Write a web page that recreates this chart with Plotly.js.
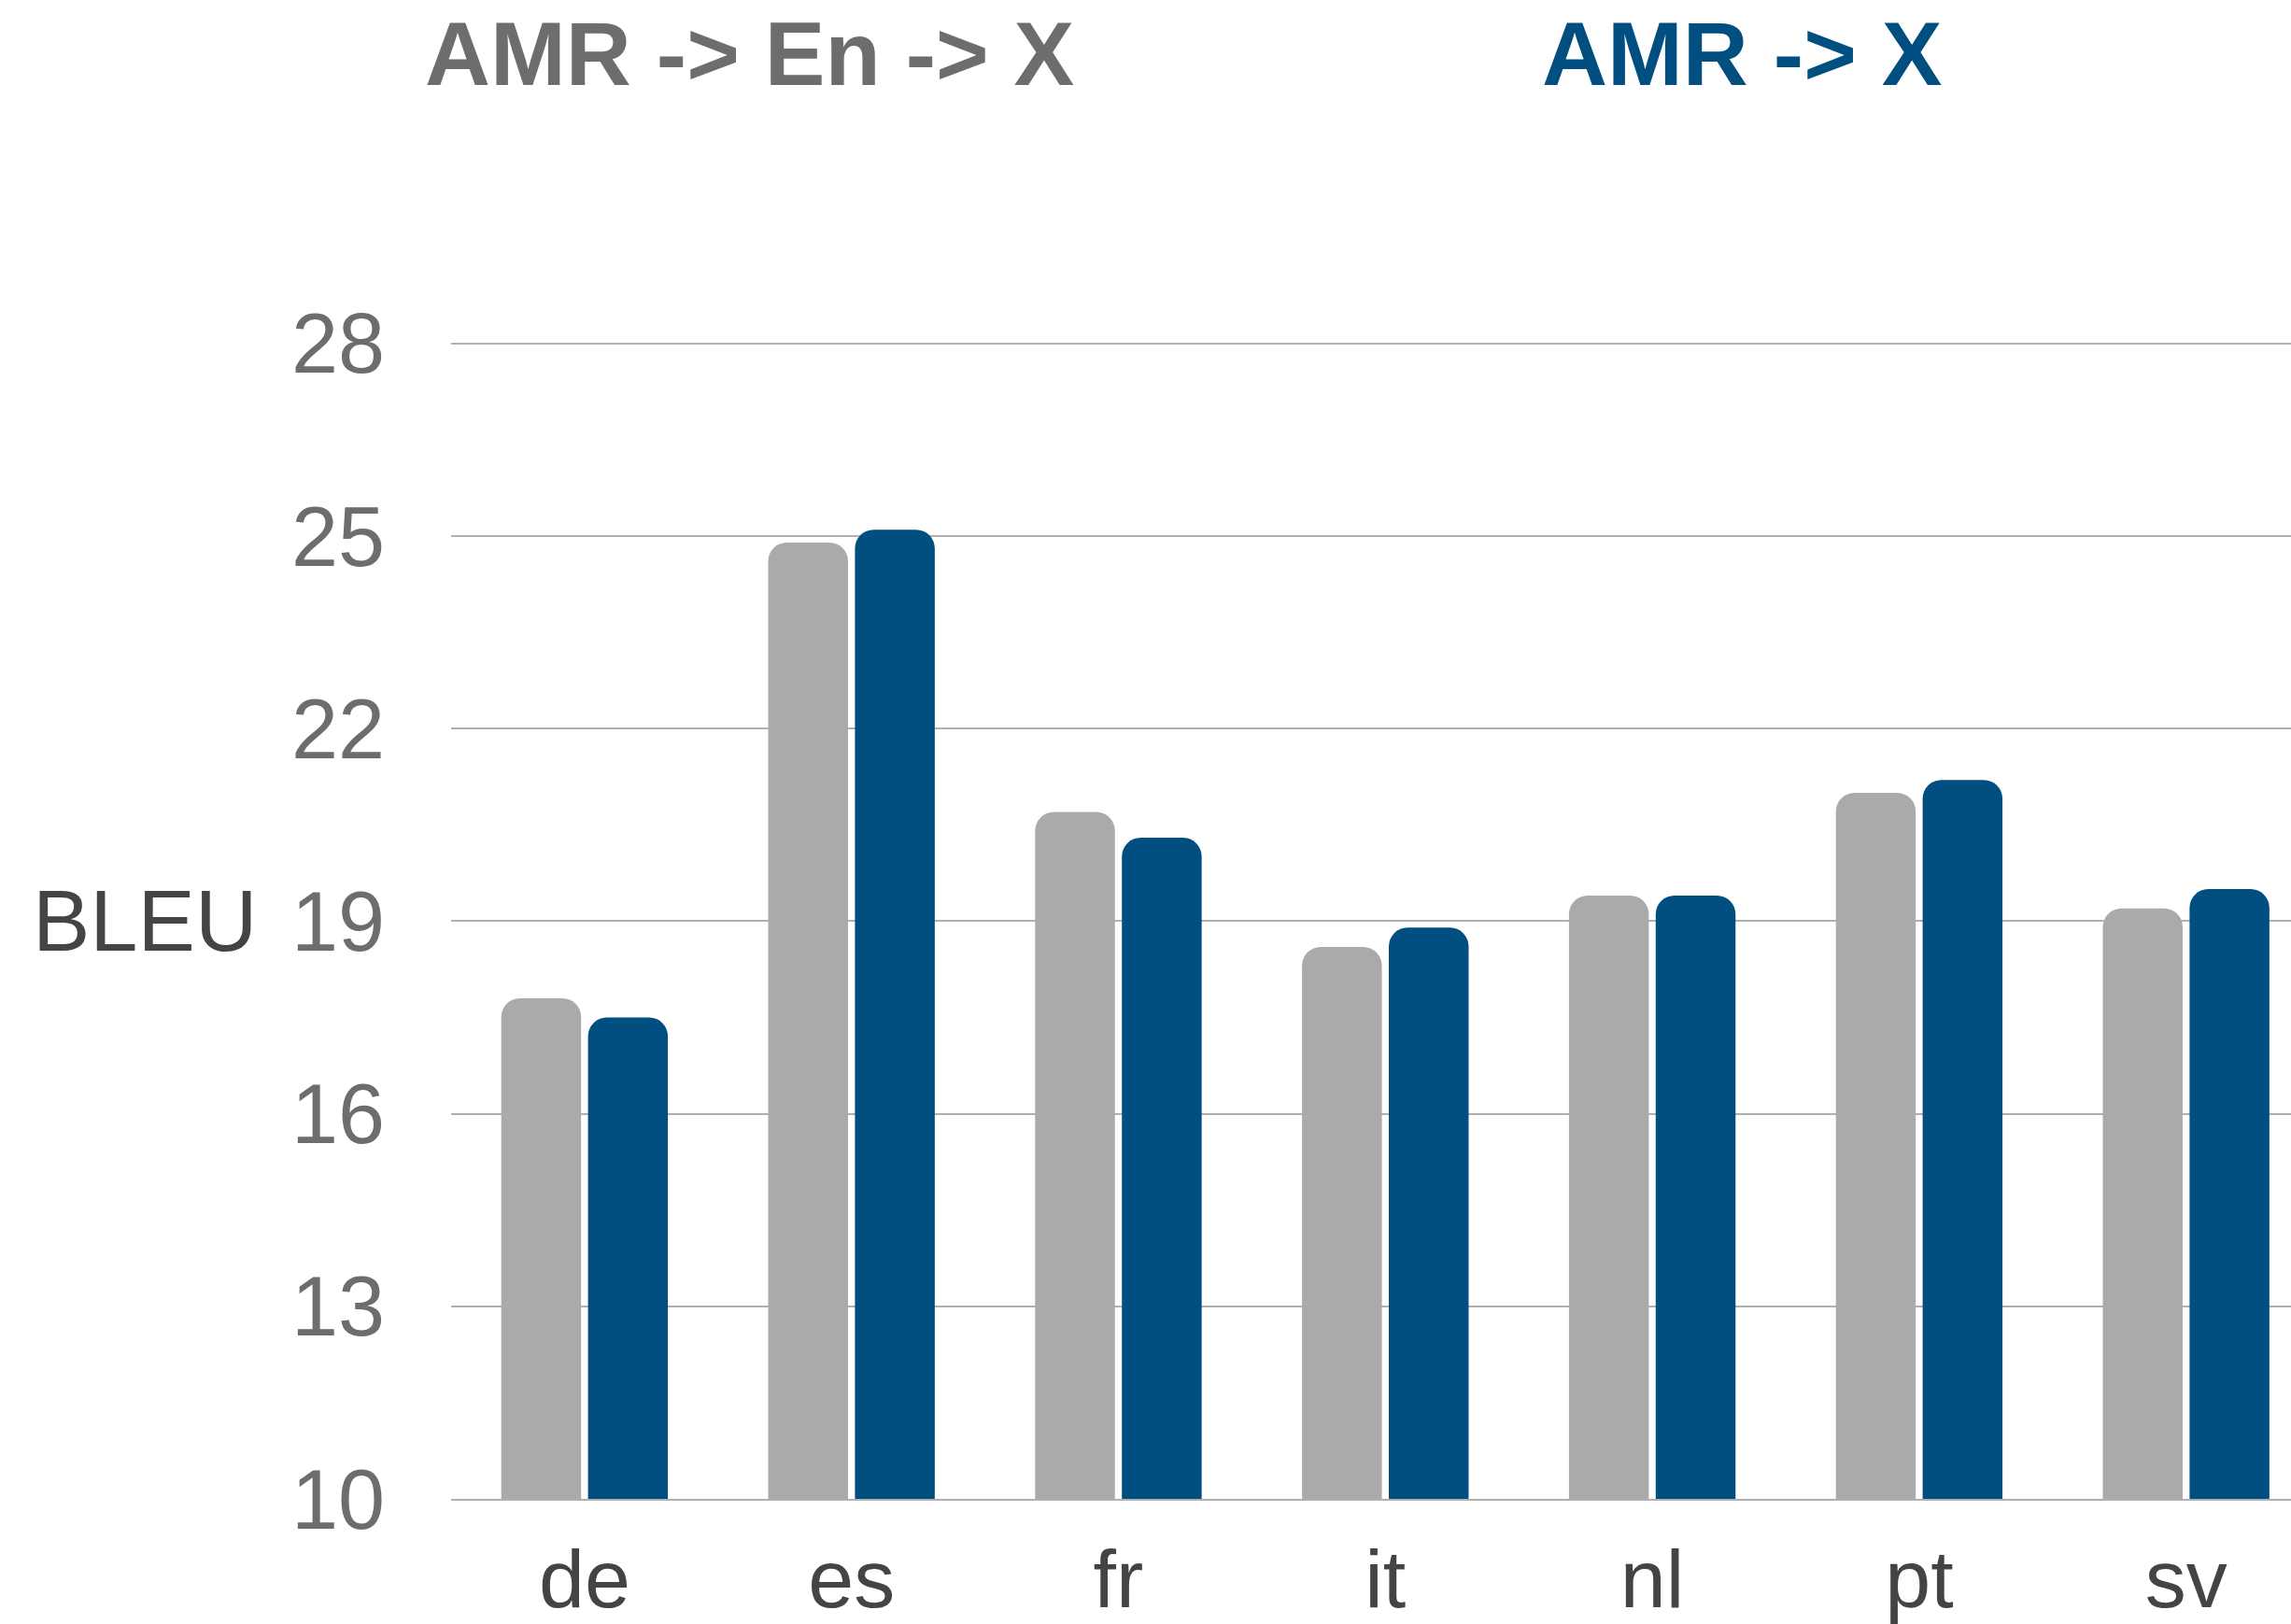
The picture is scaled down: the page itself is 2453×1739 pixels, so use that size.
<!DOCTYPE html>
<html>
<head>
<meta charset="utf-8">
<script src="https://cdn.plot.ly/plotly-3.0.1.min.js"></script>
<style>
  html, body { margin: 0; padding: 0; background: #ffffff; }
  #chart { width: 2453px; height: 1739px; }
</style>
</head>
<body>
<div id="chart"></div>
<script>
// Target languages
const languages = ['de', 'es', 'fr', 'it', 'nl', 'pt', 'sv'];

// BLEU scores for each translation setup
const seriesNames = ['AMR -> En -> X', 'AMR -> X'];
const pivotScores = [17.8, 24.9, 20.7, 18.6, 19.4, 21.0, 19.2];
const directScores = [17.5, 25.1, 20.3, 18.9, 19.4, 21.2, 19.5];

// Axis ticks
const yTicks = [10, 13, 16, 19, 22, 25, 28];
const yAxisLabel = 'BLEU';

const grey = '#aaaaaa';
const blue = '#004f80';
const font = 'Liberation Sans, Arial, Helvetica, sans-serif';

const traces = [
  {
    type: 'bar',
    name: seriesNames[0],
    x: languages,
    y: pivotScores,
    marker: { color: grey, cornerradius: 20 },
    hoverinfo: 'x+y+name'
  },
  {
    type: 'bar',
    name: seriesNames[1],
    x: languages,
    y: directScores,
    marker: { color: blue, cornerradius: 20 },
    hoverinfo: 'x+y+name'
  }
];

const layout = {
  width: 2453,
  height: 1739,
  paper_bgcolor: '#ffffff',
  plot_bgcolor: '#ffffff',
  margin: { l: 483, r: 0, t: 361, b: 134, pad: 0 },
  showlegend: false,
  barmode: 'group',
  bargap: 0.35,
  bargroupgap: 0.08,
  font: { family: font, color: '#444444' },
  xaxis: {
    type: 'category',
    range: [-0.5, 6.393],
    showgrid: false,
    zeroline: false,
    showline: true,
    linecolor: '#b0b0b0',
    linewidth: 2,
    ticks: '',
    ticklabelstandoff: 8,
    tickfont: { family: font, size: 88, color: '#444444' }
  },
  yaxis: {
    range: [10, 28.1],
    tickvals: yTicks,
    ticktext: yTicks.map(String),
    showgrid: true,
    gridcolor: '#b0b0b0',
    gridwidth: 2,
    zeroline: false,
    showline: false,
    ticks: '',
    ticklabelstandoff: 70,
    tickfont: { family: font, size: 90, color: '#6d6d6d' }
  },
  annotations: [
    {
      text: yAxisLabel,
      xref: 'paper', yref: 'y',
      x: -0.1665, y: 19,
      xanchor: 'center', yanchor: 'middle',
      showarrow: false,
      font: { family: font, size: 92, color: '#444444' }
    },
    {
      text: '<b>' + seriesNames[0] + '</b>',
      xref: 'paper', yref: 'paper',
      x: 0.162, y: 1.244,
      xanchor: 'center', yanchor: 'middle',
      showarrow: false,
      font: { family: font, size: 97, color: '#6d6d6d' }
    },
    {
      text: '<b>' + seriesNames[1] + '</b>',
      xref: 'paper', yref: 'paper',
      x: 0.7015, y: 1.244,
      xanchor: 'center', yanchor: 'middle',
      showarrow: false,
      font: { family: font, size: 97, color: blue }
    }
  ]
};

Plotly.newPlot('chart', traces, layout, { staticPlot: true, displayModeBar: false });
</script>
</body>
</html>
